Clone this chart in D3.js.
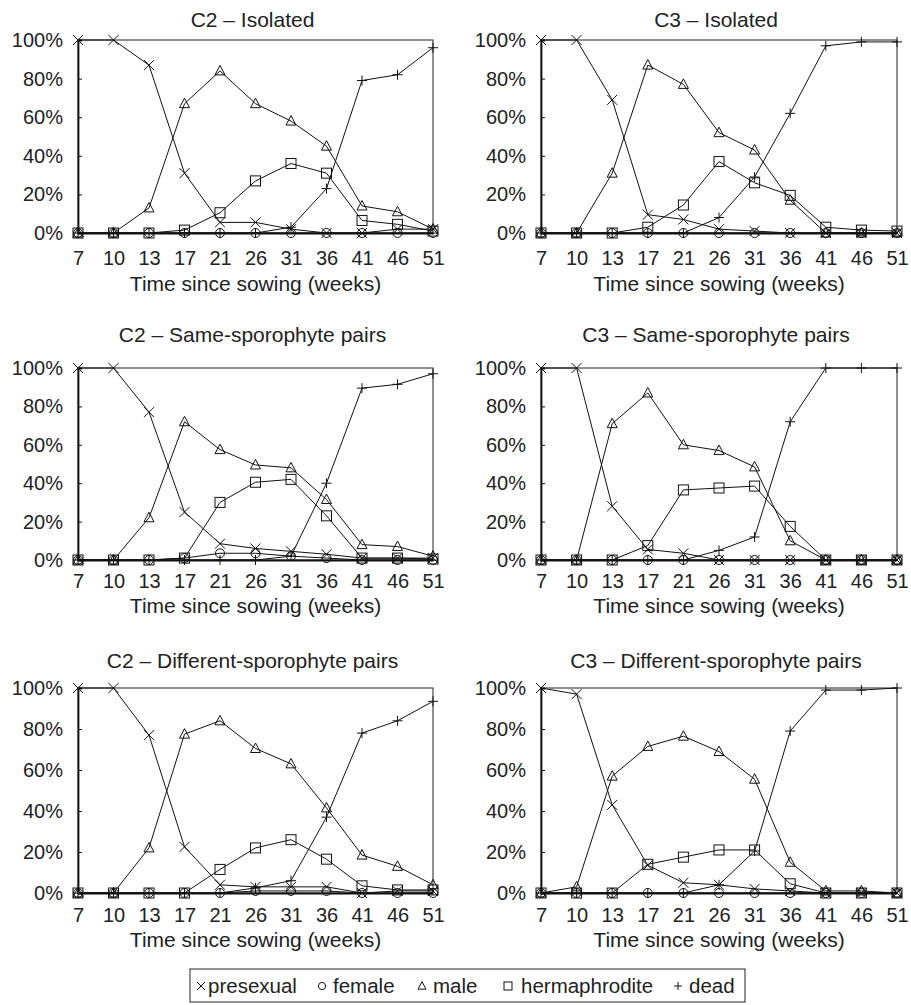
<!DOCTYPE html>
<html>
<head>
<meta charset="utf-8">
<script src="https://cdn.jsdelivr.net/npm/d3@7"></script>
<style>
  body { margin: 0; background: #fff; }
  svg { display: block; font-family: "Liberation Sans", Arial, sans-serif; }
</style>
</head>
<body>
<svg id="chart"></svg>
<script>
// weeks since sowing (categorical, evenly spaced)
const weeks = ["7", "10", "13", "17", "21", "26", "31", "36", "41", "46", "51"];
const yTicks = [0, 20, 40, 60, 80, 100];
const seriesNames = ["presexual", "female", "male", "hermaphrodite", "dead"];

// C2 – Isolated
const c2IsoPresexual = [100, 100, 87, 31, 5.5, 5.5, 2, 0, 0, 2, 2];
const c2IsoFemale    = [0, 0, 0, 0, 0, 0, 0, 0, 0, 0, 0];
const c2IsoMale      = [0, 0, 13, 67, 84, 67, 58, 45, 14, 11, 2];
const c2IsoHerm      = [0, 0, 0, 1.5, 10.5, 27, 36, 31, 6.5, 4.5, 1];
const c2IsoDead      = [0, 0, 0, 0, 0, 0, 3, 23, 79, 82, 96];

// C3 – Isolated
const c3IsoPresexual = [100, 100, 69, 9.5, 7, 2, 1, 0, 0, 0, 0];
const c3IsoFemale    = [0, 0, 0, 0, 0, 0, 0, 0, 0, 0, 0];
const c3IsoMale      = [0, 0, 31, 87, 77, 52, 43, 17, 0, 0, 0];
const c3IsoHerm      = [0, 0, 0, 3, 14.5, 37, 26, 19.5, 3, 1.5, 1];
const c3IsoDead      = [0, 0, 0, 0, 0, 8, 29, 62, 97, 99, 99];

// C2 – Same-sporophyte pairs
const c2SamePresexual = [100, 100, 77, 25, 8.5, 6, 4.5, 3, 1, 1, 1];
const c2SameFemale    = [0, 0, 0, 1, 3.5, 3.5, 2, 1, 0, 0, 0];
const c2SameMale      = [0, 0, 22, 72, 57.5, 49.5, 48, 31.5, 8, 7, 2];
const c2SameHerm      = [0, 0, 0, 1, 30, 40.5, 42, 23, 1, 1, 0.5];
const c2SameDead      = [0, 0, 0, 0, 0, 0, 2, 40, 89.5, 91.5, 97];

// C3 – Same-sporophyte pairs
const c3SamePresexual = [100, 100, 28, 5.5, 3.5, 0, 0, 0, 0, 0, 0];
const c3SameFemale    = [0, 0, 0, 0, 0, 0, 0, 0, 0, 0, 0];
const c3SameMale      = [0, 0, 71, 87, 60, 57, 48.5, 10, 0, 0, 0];
const c3SameHerm      = [0, 0, 0, 7.5, 36.5, 37.5, 38.5, 17.5, 0, 0, 0];
const c3SameDead      = [0, 0, 0, 0, 0, 5, 12, 72, 100, 100, 100];

// C2 – Different-sporophyte pairs
const c2DiffPresexual = [100, 100, 77, 22.5, 4, 3, 3, 3, 0, 1, 1];
const c2DiffFemale    = [0, 0, 0, 0, 0, 1, 1, 1, 0, 0, 0];
const c2DiffMale      = [0, 0, 22, 77.5, 84, 70.5, 63, 41.5, 18.5, 13, 4];
const c2DiffHerm      = [0, 0, 0, 0, 11.5, 22, 26, 16.5, 3.5, 1.5, 1.5];
const c2DiffDead      = [0, 0, 0, 0, 0, 2.5, 6, 37, 78, 84, 93.5];

// C3 – Different-sporophyte pairs
const c3DiffPresexual = [100, 97, 43, 13.5, 5, 4, 2, 1, 0, 0, 0];
const c3DiffFemale    = [0, 0, 0, 0, 0, 0, 0, 0, 0, 0, 0];
const c3DiffMale      = [0, 3, 57, 71.5, 76.5, 69, 55.5, 15, 1, 1, 0];
const c3DiffHerm      = [0, 0, 0, 14, 17.5, 21, 21, 4.5, 0, 0, 0];
const c3DiffDead      = [0, 0, 0, 0, 0, 4, 20.5, 79, 99, 99, 100];

const panelTitles = [
  "C2 – Isolated", "C3 – Isolated",
  "C2 – Same-sporophyte pairs", "C3 – Same-sporophyte pairs",
  "C2 – Different-sporophyte pairs", "C3 – Different-sporophyte pairs"
];
const panelData = [
  [c2IsoPresexual, c2IsoFemale, c2IsoMale, c2IsoHerm, c2IsoDead],
  [c3IsoPresexual, c3IsoFemale, c3IsoMale, c3IsoHerm, c3IsoDead],
  [c2SamePresexual, c2SameFemale, c2SameMale, c2SameHerm, c2SameDead],
  [c3SamePresexual, c3SameFemale, c3SameMale, c3SameHerm, c3SameDead],
  [c2DiffPresexual, c2DiffFemale, c2DiffMale, c2DiffHerm, c2DiffDead],
  [c3DiffPresexual, c3DiffFemale, c3DiffMale, c3DiffHerm, c3DiffDead]
];

const width = 911, height = 1005;
const svg = d3.select("#chart")
  .attr("width", width)
  .attr("height", height);

// column x-ranges and row geometry
const cols = [[78, 433], [541, 897]];
const rows = [
  {top: 40, bottom: 233, title: 27, tick: 265, label: 291},
  {top: 368, bottom: 560, title: 342, tick: 588, label: 613},
  {top: 688, bottom: 893, title: 668, tick: 922, label: 947}
];

// marker shapes, open, drawn around (0,0)
function marker(g, name, s) {
  if (name === "presexual") {
    g.append("path").attr("d", `M${-s},${-s}L${s},${s}M${-s},${s}L${s},${-s}`);
  } else if (name === "female") {
    g.append("circle").attr("r", s * 0.9);
  } else if (name === "male") {
    g.append("path").attr("d", `M0,${-s * 1.1}L${s},${s * 0.8}L${-s},${s * 0.8}Z`);
  } else if (name === "hermaphrodite") {
    g.append("rect").attr("x", -s).attr("y", -s).attr("width", 2 * s).attr("height", 2 * s);
  } else {
    g.append("path").attr("d", `M${-s},0L${s},0M0,${-s}L0,${s}`);
  }
}

panelData.forEach(function(series, i) {
  const col = cols[i % 2], row = rows[Math.floor(i / 2)];

  const x = d3.scalePoint().domain(weeks).range(col);
  const y = d3.scaleLinear().domain([0, 100]).range([row.bottom, row.top]);

  const g = svg.append("g");

  // frame
  g.append("rect")
    .attr("x", col[0]).attr("y", row.top)
    .attr("width", col[1] - col[0]).attr("height", row.bottom - row.top)
    .attr("fill", "none").attr("stroke", "#222").attr("stroke-width", 1);

  // y axis
  const yAxis = g.append("g")
    .attr("transform", `translate(${col[0]},0)`)
    .call(d3.axisRight(y).tickValues(yTicks).tickSize(4).tickFormat(""));
  yAxis.select(".domain").attr("stroke", "#111").attr("stroke-width", 1.8);
  yAxis.selectAll(".tick line").attr("stroke", "#111");
  g.selectAll(".ylab")
    .data(yTicks)
    .enter().append("text")
    .attr("x", col[0] - 15)
    .attr("y", d => y(d) + 7)
    .attr("text-anchor", "end")
    .style("font-size", "20px")
    .attr("fill", "#222")
    .text(d => d + "%");

  // x axis
  const xAxis = g.append("g")
    .attr("transform", `translate(0,${row.bottom})`)
    .call(d3.axisBottom(x).tickSize(0).tickPadding(0));
  xAxis.select(".domain").attr("stroke", "#111").attr("stroke-width", 1.8);
  xAxis.selectAll(".tick text")
    .attr("y", row.tick - row.bottom)
    .attr("dy", 0)
    .style("font-size", "20px")
    .style("font-family", "Liberation Sans, Arial, sans-serif")
    .attr("fill", "#222");

  // titles
  g.append("text")
    .attr("x", (col[0] + col[1]) / 2 - 3)
    .attr("y", row.title)
    .attr("text-anchor", "middle")
    .style("font-size", "21px")
    .attr("fill", "#222")
    .text(panelTitles[i]);

  g.append("text")
    .attr("x", (col[0] + col[1]) / 2)
    .attr("y", row.label)
    .attr("text-anchor", "middle")
    .style("font-size", "21px")
    .attr("fill", "#222")
    .text("Time since sowing (weeks)");

  // series lines and markers
  const line = d3.line()
    .x((d, j) => x(weeks[j]))
    .y(d => y(d));

  series.forEach(function(vals, k) {
    g.append("path")
      .datum(vals)
      .attr("d", line)
      .attr("fill", "none")
      .attr("stroke", "#111")
      .attr("stroke-width", 1);

    g.selectAll(".m" + k)
      .data(vals)
      .enter().append("g")
      .attr("class", "m" + k)
      .attr("transform", (d, j) => `translate(${x(weeks[j])},${y(d)})`)
      .attr("fill", "none")
      .attr("stroke", "#111")
      .attr("stroke-width", 1)
      .each(function() { marker(d3.select(this), seriesNames[k], 5); });
  });
});

// legend
const legendBox = {x: 190, y: 969, w: 555, h: 33};
svg.append("rect")
  .attr("x", legendBox.x).attr("y", legendBox.y)
  .attr("width", legendBox.w).attr("height", legendBox.h)
  .attr("fill", "none").attr("stroke", "#222").attr("stroke-width", 1);

const legendX = [201, 322, 422, 508, 678];
const legendTextX = [208, 333, 433, 521, 689];
const legend = svg.selectAll(".legend")
  .data(seriesNames)
  .enter().append("g")
  .attr("class", "legend");

legend.append("g")
  .attr("transform", (d, i) => `translate(${legendX[i]},986)`)
  .attr("fill", "none")
  .attr("stroke", "#111")
  .attr("stroke-width", 1)
  .each(function(d) { marker(d3.select(this), d, 4); });

legend.append("text")
  .attr("x", (d, i) => legendTextX[i])
  .attr("y", 993)
  .style("font-size", "20.5px")
  .attr("fill", "#222")
  .text(d => d);
</script>
</body>
</html>
